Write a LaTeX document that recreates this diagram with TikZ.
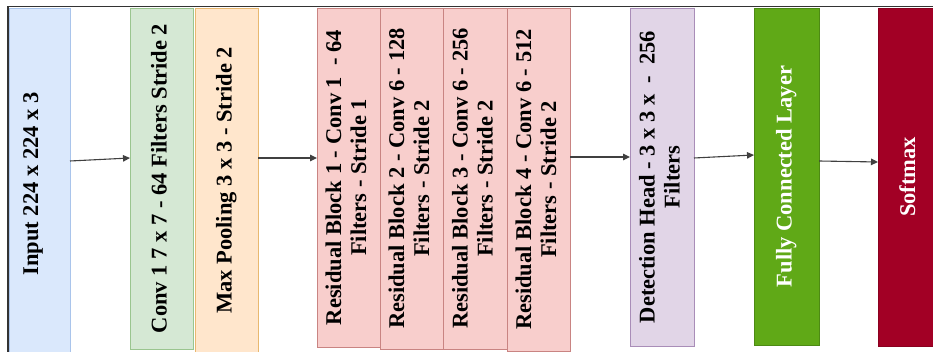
\documentclass[tikz,border=0pt]{standalone}
\usepackage{fontspec}
\setmainfont{Liberation Serif}
\usetikzlibrary{calc,arrows.meta}
\definecolor{inF}{HTML}{DAE8FC}\definecolor{inD}{HTML}{A9C4EB}
\definecolor{cvF}{HTML}{D5E8D4}\definecolor{cvD}{HTML}{9AC58F}
\definecolor{mpF}{HTML}{FFE6CC}\definecolor{mpD}{HTML}{E8B870}
\definecolor{rsF}{HTML}{F8CECC}\definecolor{rsD}{HTML}{C98482}
\definecolor{dhF}{HTML}{E1D5E7}\definecolor{dhD}{HTML}{A98DB8}
\definecolor{fcF}{HTML}{60A917}\definecolor{fcD}{HTML}{4D8A14}
\definecolor{smF}{HTML}{A20025}\definecolor{smD}{HTML}{8A001F}
\definecolor{frameC}{HTML}{333333}
\definecolor{arrC}{HTML}{404040}
\tikzset{
  layer/.style={draw, line width=0.9pt, inner sep=0pt, outer sep=0pt, align=center,
    font=\fontsize{22.5}{25}\selectfont\bfseries},
  lbl/.style={inner sep=0pt, font=\fontsize{22.5}{25}\selectfont\bfseries},
  arr/.style={draw=arrC, line width=1.1pt, -{Triangle[length=7pt,width=6.5pt]}}
}
\newcommand{\rt}[1]{\rotatebox{90}{\begin{tabular}{@{}c@{}}#1\end{tabular}}}
\begin{document}
\begin{tikzpicture}[x=1pt,y=-1pt]
\useasboundingbox (0,0) rectangle (933,352);
\clip (0,0) rectangle (933,352);
\fill[white] (0,0) rectangle (933,352);
\node[layer, fill=inF, draw=inD, minimum width=61pt, minimum height=352pt] (in) at (39.5,184) {};
\node[lbl] (inlbl) at (33,184) {\rt{Input 224 x 224 x 3}};
\node[layer, fill=cvF, draw=cvD, minimum width=63pt, minimum height=341pt] (conv) at (161.5,178.5) {\rt{Conv 1 7 x 7 - 64 Filters Stride 2}};
\node[layer, fill=mpF, draw=mpD, minimum width=63pt, minimum height=345pt] (pool) at (226.5,180.5) {\rt{Max Pooling 3 x 3 - Stride 2}};
\node[layer, fill=rsF, draw=rsD, minimum width=63pt, minimum height=339pt] (res1) at (348.5,177.5) {\rt{Residual Block 1 - Conv 1 \ - 64\\Filters - Stride 1}};
\node[layer, fill=rsF, draw=rsD, minimum width=63pt, minimum height=341pt] (res2) at (411.5,178.5) {\rt{Residual Block 2 - Conv 6 - 128\\Filters - Stride 2}};
\node[layer, fill=rsF, draw=rsD, minimum width=64pt, minimum height=341pt] (res3) at (475,178.5) {\rt{Residual Block 3 - Conv 6 - 256\\Filters - Stride 2}};
\node[layer, fill=rsF, draw=rsD, minimum width=63pt, minimum height=343pt] (res4) at (538.5,179.5) {\rt{Residual Block 4 - Conv 6 - 512\\Filters - Stride 2}};
\node[layer, fill=dhF, draw=dhD, minimum width=64pt, minimum height=338pt] (det) at (662,177) {\rt{Detection Head - 3 x 3 x \ - \ 256\\Filters}};
\node[layer, fill=fcF, draw=fcD, text=white, minimum width=65pt, minimum height=337pt] (fc) at (786.5,176.5) {\rt{Fully Connected Layer}};
\node[layer, fill=smF, draw=smD, text=white, minimum width=64pt, minimum height=338pt] (soft) at (910,177) {\rt{Softmax}};
\draw[arr] ($(in.north east)+(0,153)$) -- ($(conv.north west)+(0,150)$);
\draw[arr] ($(pool.north east)+(0,150)$) -- ($(res1.north west)+(0,150)$);
\draw[arr] ($(res4.north east)+(0,149)$) -- ($(det.north west)+(0,149)$);
\draw[arr] ($(det.north east)+(0,150)$) -- ($(fc.north west)+(0,147)$);
\draw[arr] ($(fc.north east)+(0,153)$) -- ($(soft.north west)+(0,154)$);
\draw[frameC, line width=1.6pt] (8,360) -- (8,6.5) -- (940,6.5);
\end{tikzpicture}
\end{document}
